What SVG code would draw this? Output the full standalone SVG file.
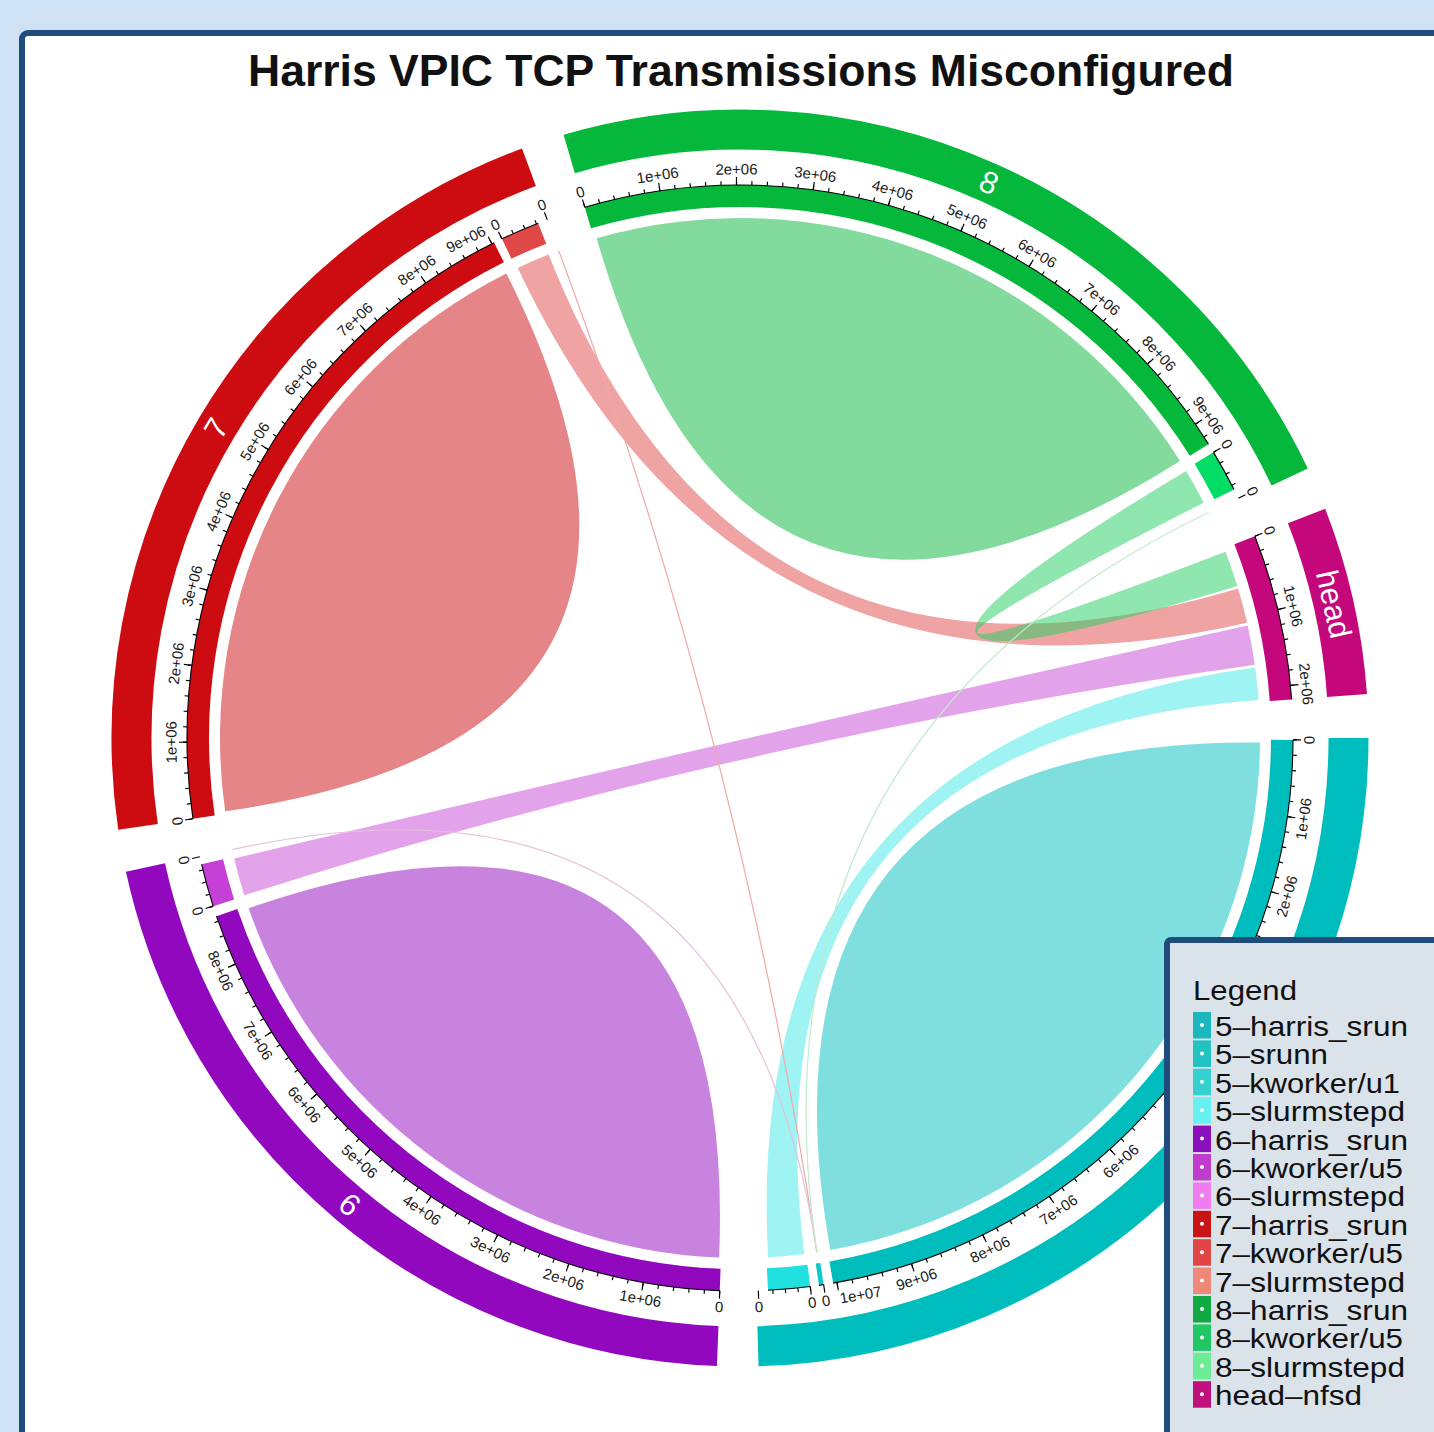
<svg xmlns="http://www.w3.org/2000/svg" width="1434" height="1432" viewBox="0 0 1434 1432">
<style>
.f{font-family:"Liberation Sans",Arial,sans-serif}
.ax{fill:none;stroke:#000;stroke-width:1.1}
.mn{fill:none;stroke:#000;stroke-width:4}
.mj{fill:none;stroke:#000;stroke-width:8}
.tk{stroke:#000;stroke-width:1.15}
.ob{fill:none;stroke-width:40}
.ib{fill:none;stroke-width:22}
.lbl{font-family:"Liberation Sans",Arial,sans-serif;font-size:15px;fill:#1a1a1a;text-anchor:middle;dominant-baseline:central}
.sl{font-family:"Liberation Sans",Arial,sans-serif;font-size:31px;fill:#fff;text-anchor:middle;dominant-baseline:central}
.ch{stroke:none;fill-opacity:0.5}
.thin{fill:none;stroke-width:1.2}
.lg{font-family:"Liberation Sans",Arial,sans-serif;font-size:28px;fill:#111}
</style>
<defs>
<mask id="m5"><circle r="557" fill="none" stroke="#fff" stroke-width="14" pathLength="360" stroke-dasharray="80.4 400" transform="rotate(0.05)"/></mask>
<mask id="m6"><circle r="557" fill="none" stroke="#fff" stroke-width="14" pathLength="360" stroke-dasharray="69.4 400" transform="rotate(91.95)"/></mask>
<mask id="m7"><circle r="557" fill="none" stroke="#fff" stroke-width="14" pathLength="360" stroke-dasharray="72.3 400" transform="rotate(171.45)"/></mask>
<mask id="m8"><circle r="557" fill="none" stroke="#fff" stroke-width="14" pathLength="360" stroke-dasharray="74.5 400" transform="rotate(253.55)"/></mask>
<mask id="mh"><circle r="557" fill="none" stroke="#fff" stroke-width="14" pathLength="360" stroke-dasharray="17.6 400" transform="rotate(338.45)"/></mask>
</defs>
<rect width="1434" height="1432" fill="#cfe2f3"/>
<rect x="22" y="33" width="1460" height="1460" rx="6" fill="#fff" stroke="#1f4b7d" stroke-width="6"/>
<text class="f" x="741" y="86" font-size="44" font-weight="bold" text-anchor="middle" fill="#111" textLength="986" lengthAdjust="spacingAndGlyphs">Harris VPIC TCP Transmissions Misconfigured</text>

<g id="chord" transform="translate(740 738)">
<g id="sector-5">
<circle class="ob" r="608.5" stroke="#00bdbd" pathLength="360" stroke-dasharray="88.3 400" transform="rotate(0)"/>
<circle class="ib" r="542" stroke="#00bdbd" pathLength="360" stroke-dasharray="80.1 400" transform="rotate(0.2)"/>
<circle class="ib" r="542" stroke="#10c8c8" pathLength="360" stroke-dasharray="0.5 400" transform="rotate(81.3)"/>
<circle class="ib" r="542" stroke="#20e0e0" pathLength="360" stroke-dasharray="4.4 400" transform="rotate(82.7)"/>
<circle class="ax" r="553" pathLength="360" stroke-dasharray="80.1 400" transform="rotate(0.2)"/>
<circle class="ax" r="553" pathLength="360" stroke-dasharray="0.5 400" transform="rotate(81.3)"/>
<circle class="ax" r="553" pathLength="360" stroke-dasharray="4.4 400" transform="rotate(82.7)"/>
<g mask="url(#m5)">
<circle class="mn" r="555" pathLength="360" stroke-dasharray="0.12 1.474" transform="rotate(0.14)"/>
<circle class="mj" r="557" pathLength="360" stroke-dasharray="0.12 7.85" transform="rotate(0.14)"/>
</g>
<circle class="mn" r="555" pathLength="360" stroke-dasharray="0.12 1.18 0.12 1.18 0.12 1.18 0.12 400" transform="rotate(82.64)"/>
<line class="tk" x1="553" x2="561" transform="rotate(81.3)"/>
<line class="tk" x1="553" x2="561" transform="rotate(82.7)"/>
<line class="tk" x1="553" x2="561" transform="rotate(88.1)"/>
<text class="lbl" transform="rotate(0.2) translate(569 0) rotate(-90)">0</text>
<text class="lbl" transform="rotate(8.17) translate(569 0) rotate(-90)">1e+06</text>
<text class="lbl" transform="rotate(16.14) translate(569 0) rotate(-90)">2e+06</text>
<text class="lbl" transform="rotate(48.02) translate(569 0) rotate(-90)">6e+06</text>
<text class="lbl" transform="rotate(55.99) translate(569 0) rotate(-90)">7e+06</text>
<text class="lbl" transform="rotate(63.96) translate(569 0) rotate(-90)">8e+06</text>
<text class="lbl" transform="rotate(71.93) translate(569 0) rotate(-90)">9e+06</text>
<text class="lbl" style="text-anchor:start" transform="rotate(79.9) translate(569 0) rotate(-90)">1e+07</text>
<text class="lbl" transform="rotate(81.3) translate(569 0) rotate(-90)">0</text>
<text class="lbl" transform="rotate(82.7) translate(569 0) rotate(-90)">0</text>
<text class="lbl" transform="rotate(88.1) translate(569 0) rotate(-90)">0</text>
</g>

<g id="sector-6">
<circle class="ob" r="608.5" stroke="#9108bf" pathLength="360" stroke-dasharray="75.6 400" transform="rotate(92.1)"/>
<circle class="ib" r="542" stroke="#9108bf" pathLength="360" stroke-dasharray="69.1 400" transform="rotate(92.1)"/>
<circle class="ib" r="542" stroke="#c440d6" pathLength="360" stroke-dasharray="4.5 400" transform="rotate(162.3)"/>
<circle class="ax" r="553" pathLength="360" stroke-dasharray="69.1 400" transform="rotate(92.1)"/>
<circle class="ax" r="553" pathLength="360" stroke-dasharray="4.5 400" transform="rotate(162.3)"/>
<g mask="url(#m6)">
<circle class="mn" r="555" pathLength="360" stroke-dasharray="0.12 1.474" transform="rotate(92.04)"/>
<circle class="mj" r="557" pathLength="360" stroke-dasharray="0.12 7.85" transform="rotate(92.04)"/>
</g>
<circle class="mn" r="555" pathLength="360" stroke-dasharray="0.12 1.18 0.12 1.18 0.12 1.18 0.12 400" transform="rotate(162.24)"/>
<line class="tk" x1="553" x2="561" transform="rotate(162.3)"/>
<line class="tk" x1="553" x2="561" transform="rotate(167.6)"/>
<text class="lbl" transform="rotate(92.1) translate(569 0) rotate(-90)">0</text>
<text class="lbl" transform="rotate(100.07) translate(569 0) rotate(-90)">1e+06</text>
<text class="lbl" transform="rotate(108.04) translate(569 0) rotate(-90)">2e+06</text>
<text class="lbl" transform="rotate(116.01) translate(569 0) rotate(-90)">3e+06</text>
<text class="lbl" transform="rotate(123.98) translate(569 0) rotate(-90)">4e+06</text>
<text class="lbl" transform="rotate(131.95) translate(569 0) rotate(-90)">5e+06</text>
<text class="lbl" transform="rotate(139.92) translate(569 0) rotate(-90)">6e+06</text>
<text class="lbl" transform="rotate(147.89) translate(569 0) rotate(-90)">7e+06</text>
<text class="lbl" transform="rotate(155.86) translate(569 0) rotate(-90)">8e+06</text>
<text class="lbl" transform="rotate(162.3) translate(569 0) rotate(-90)">0</text>
<text class="lbl" transform="rotate(167.6) translate(569 0) rotate(-90)">0</text>
<text class="sl" transform="rotate(129.9) translate(608.5 0) rotate(-90)">6</text>
</g>

<g id="sector-7">
<circle class="ob" r="608.5" stroke="#cc0c10" pathLength="360" stroke-dasharray="78.1 400" transform="rotate(171.6)"/>
<circle class="ib" r="542" stroke="#cc0c10" pathLength="360" stroke-dasharray="72 400" transform="rotate(171.6)"/>
<circle class="ib" r="542" stroke="#e04848" pathLength="360" stroke-dasharray="4.1 400" transform="rotate(244.5)"/>
<circle class="ax" r="553" pathLength="360" stroke-dasharray="72 400" transform="rotate(171.6)"/>
<circle class="ax" r="553" pathLength="360" stroke-dasharray="4.1 400" transform="rotate(244.5)"/>
<g mask="url(#m7)">
<circle class="mn" r="555" pathLength="360" stroke-dasharray="0.12 1.474" transform="rotate(171.54)"/>
<circle class="mj" r="557" pathLength="360" stroke-dasharray="0.12 7.85" transform="rotate(171.54)"/>
</g>
<circle class="mn" r="555" pathLength="360" stroke-dasharray="0.12 1.18 0.12 1.18 0.12 1.18 0.12 400" transform="rotate(244.44)"/>
<line class="tk" x1="553" x2="561" transform="rotate(244.5)"/>
<line class="tk" x1="553" x2="561" transform="rotate(249.6)"/>
<text class="lbl" transform="rotate(171.6) translate(569 0) rotate(90)">0</text>
<text class="lbl" transform="rotate(179.57) translate(569 0) rotate(90)">1e+06</text>
<text class="lbl" transform="rotate(187.54) translate(569 0) rotate(90)">2e+06</text>
<text class="lbl" transform="rotate(195.51) translate(569 0) rotate(90)">3e+06</text>
<text class="lbl" transform="rotate(203.48) translate(569 0) rotate(90)">4e+06</text>
<text class="lbl" transform="rotate(211.45) translate(569 0) rotate(90)">5e+06</text>
<text class="lbl" transform="rotate(219.42) translate(569 0) rotate(90)">6e+06</text>
<text class="lbl" transform="rotate(227.39) translate(569 0) rotate(90)">7e+06</text>
<text class="lbl" transform="rotate(235.36) translate(569 0) rotate(90)">8e+06</text>
<text class="lbl" style="text-anchor:end" transform="rotate(243.33) translate(569 0) rotate(90)">9e+06</text>
<text class="lbl" transform="rotate(244.5) translate(569 0) rotate(90)">0</text>
<text class="lbl" transform="rotate(249.6) translate(569 0) rotate(90)">0</text>
<text class="sl" transform="rotate(210.6) translate(608.5 0) rotate(90)">7</text>
</g>

<g id="sector-8">
<circle class="ob" r="608.5" stroke="#05b83c" pathLength="360" stroke-dasharray="80.9 400" transform="rotate(253.7)"/>
<circle class="ib" r="542" stroke="#05b83c" pathLength="360" stroke-dasharray="74.2 400" transform="rotate(253.7)"/>
<circle class="ib" r="542" stroke="#00dc64" pathLength="360" stroke-dasharray="4.4 400" transform="rotate(328.9)"/>
<circle class="ax" r="553" pathLength="360" stroke-dasharray="74.2 400" transform="rotate(253.7)"/>
<circle class="ax" r="553" pathLength="360" stroke-dasharray="4.4 400" transform="rotate(328.9)"/>
<g mask="url(#m8)">
<circle class="mn" r="555" pathLength="360" stroke-dasharray="0.12 1.474" transform="rotate(253.64)"/>
<circle class="mj" r="557" pathLength="360" stroke-dasharray="0.12 7.85" transform="rotate(253.64)"/>
</g>
<circle class="mn" r="555" pathLength="360" stroke-dasharray="0.12 1.18 0.12 1.18 0.12 1.18 0.12 400" transform="rotate(328.84)"/>
<line class="tk" x1="553" x2="561" transform="rotate(328.9)"/>
<line class="tk" x1="553" x2="561" transform="rotate(334.3)"/>
<text class="lbl" transform="rotate(253.7) translate(569 0) rotate(90)">0</text>
<text class="lbl" transform="rotate(261.67) translate(569 0) rotate(90)">1e+06</text>
<text class="lbl" transform="rotate(269.64) translate(569 0) rotate(90)">2e+06</text>
<text class="lbl" transform="rotate(277.61) translate(569 0) rotate(90)">3e+06</text>
<text class="lbl" transform="rotate(285.58) translate(569 0) rotate(90)">4e+06</text>
<text class="lbl" transform="rotate(293.55) translate(569 0) rotate(90)">5e+06</text>
<text class="lbl" transform="rotate(301.52) translate(569 0) rotate(90)">6e+06</text>
<text class="lbl" transform="rotate(309.49) translate(569 0) rotate(90)">7e+06</text>
<text class="lbl" transform="rotate(317.46) translate(569 0) rotate(90)">8e+06</text>
<text class="lbl" transform="rotate(325.43) translate(569 0) rotate(90)">9e+06</text>
<text class="lbl" transform="rotate(328.9) translate(569 0) rotate(90)">0</text>
<text class="lbl" transform="rotate(334.3) translate(569 0) rotate(90)">0</text>
<text class="sl" transform="rotate(294.15) translate(608.5 0) rotate(90)">8</text>
</g>

<g id="sector-head">
<circle class="ob" r="608.5" stroke="#c4087c" pathLength="360" stroke-dasharray="17.4 400" transform="rotate(338.6)"/>
<circle class="ib" r="542" stroke="#c4087c" pathLength="360" stroke-dasharray="17.4 400" transform="rotate(338.6)"/>
<circle class="ax" r="553" pathLength="360" stroke-dasharray="17.4 400" transform="rotate(338.6)"/>
<g mask="url(#mh)">
<circle class="mn" r="555" pathLength="360" stroke-dasharray="0.12 1.474" transform="rotate(338.54)"/>
<circle class="mj" r="557" pathLength="360" stroke-dasharray="0.12 7.85" transform="rotate(338.54)"/>
</g>
<text class="lbl" transform="rotate(338.6) translate(569 0) rotate(90)">0</text>
<text class="lbl" transform="rotate(346.57) translate(569 0) rotate(90)">1e+06</text>
<text class="lbl" transform="rotate(354.54) translate(569 0) rotate(90)">2e+06</text>
<text class="sl" transform="rotate(347.3) translate(608.5 0) rotate(90)">head</text>
</g>

<g id="links">
<path class="ch" fill="#00bdbd" d="M519.98 4.54A520 520 0 0 1 90.30 512.10Q0 0 519.98 4.54Z"/>
<path class="ch" fill="#9108bf" d="M-20.87 519.58A520 520 0 0 1 -491.37 170.15Q0 0 -20.87 519.58Z"/>
<path class="ch" fill="#cc0c10" d="M-514.81 73.27A520 520 0 0 1 -233.65 -464.55Q0 0 -514.81 73.27Z"/>
<path class="ch" fill="#05b83c" d="M-143.33 -499.86A520 520 0 0 1 440.02 -277.10Q0 0 -143.33 -499.86Z"/>
<path class="ch" fill="#40e8e8" d="M64.27 516.01A520 520 0 0 1 28.12 519.24Q0 0 515.19 -70.57A520 520 0 0 1 518.60 -38.08Q0 0 64.27 516.01Z"/>
<path class="ch" fill="#c848d8" d="M-495.66 157.23A520 520 0 0 1 -505.84 120.51Q0 0 507.67 -112.55A520 520 0 0 1 514.81 -73.27Q0 0 -495.66 157.23Z"/>
<path class="ch" fill="#e04848" d="M-222.23 -470.12A520 520 0 0 1 -191.43 -483.48Q0 0 498.07 -149.43A520 520 0 0 1 507.08 -115.20Q0 0 -222.23 -470.12Z"/>
<path class="ch" fill="#20d060" d="M446.19 -267.04A520 520 0 0 1 463.73 -235.27Q0 0 485.46 -186.35A520 520 0 0 1 497.28 -152.03Q0 0 446.19 -267.04Z"/>
<path class="thin" stroke="#f0a8a8" d="M-181.26 -487.39Q0 0 76.86 514.29"/>
<path class="thin" stroke="#e6c0dc" d="M-507.87 111.66Q0 0 76.86 514.29"/>
<path class="thin" stroke="#c0eacc" d="M468.56 -225.50Q0 0 76.86 514.29"/>
</g>
</g>

<g id="legend">
<rect x="1167" y="940" width="300" height="520" rx="4" fill="#dae2ea" stroke="#1f4b7d" stroke-width="6"/>
<text class="lg" x="1193" y="1000" textLength="104" lengthAdjust="spacingAndGlyphs">Legend</text>
<g id="lg-swatches">
<rect x="1193" y="1012" width="18" height="26.5" fill="#1bb7bd"/>
<rect x="1193" y="1040.4" width="18" height="26.5" fill="#20c2c2"/>
<rect x="1193" y="1068.8" width="18" height="26.5" fill="#35d0d0"/>
<rect x="1193" y="1097.2" width="18" height="26.5" fill="#66f0f0"/>
<rect x="1193" y="1125.6" width="18" height="26.5" fill="#8a10bc"/>
<rect x="1193" y="1154" width="18" height="26.5" fill="#c03ccc"/>
<rect x="1193" y="1182.4" width="18" height="26.5" fill="#f07cf0"/>
<rect x="1193" y="1210.8" width="18" height="26.5" fill="#c81414"/>
<rect x="1193" y="1239.2" width="18" height="26.5" fill="#e04444"/>
<rect x="1193" y="1267.6" width="18" height="26.5" fill="#f08878"/>
<rect x="1193" y="1296" width="18" height="26.5" fill="#12a844"/>
<rect x="1193" y="1324.4" width="18" height="26.5" fill="#20c864"/>
<rect x="1193" y="1352.8" width="18" height="26.5" fill="#6cec94"/>
<rect x="1193" y="1381.2" width="18" height="26.5" fill="#c0107c"/>
</g>
<g id="lg-dots" fill="#fff">
<circle cx="1202" cy="1025" r="2"/><circle cx="1202" cy="1053.4" r="2"/><circle cx="1202" cy="1081.8" r="2"/><circle cx="1202" cy="1110.2" r="2"/><circle cx="1202" cy="1138.6" r="2"/><circle cx="1202" cy="1167" r="2"/><circle cx="1202" cy="1195.4" r="2"/><circle cx="1202" cy="1223.8" r="2"/><circle cx="1202" cy="1252.2" r="2"/><circle cx="1202" cy="1280.6" r="2"/><circle cx="1202" cy="1309" r="2"/><circle cx="1202" cy="1337.4" r="2"/><circle cx="1202" cy="1365.8" r="2"/><circle cx="1202" cy="1394.2" r="2"/>
</g>
<g id="lg-labels">
<text class="lg" x="1215" y="1036" textLength="193" lengthAdjust="spacingAndGlyphs">5–harris_srun</text>
<text class="lg" x="1215" y="1064.4" textLength="113" lengthAdjust="spacingAndGlyphs">5–srunn</text>
<text class="lg" x="1215" y="1092.8" textLength="185" lengthAdjust="spacingAndGlyphs">5–kworker/u1</text>
<text class="lg" x="1215" y="1121.2" textLength="190" lengthAdjust="spacingAndGlyphs">5–slurmstepd</text>
<text class="lg" x="1215" y="1149.6" textLength="193" lengthAdjust="spacingAndGlyphs">6–harris_srun</text>
<text class="lg" x="1215" y="1178" textLength="188" lengthAdjust="spacingAndGlyphs">6–kworker/u5</text>
<text class="lg" x="1215" y="1206.4" textLength="190" lengthAdjust="spacingAndGlyphs">6–slurmstepd</text>
<text class="lg" x="1215" y="1234.8" textLength="193" lengthAdjust="spacingAndGlyphs">7–harris_srun</text>
<text class="lg" x="1215" y="1263.2" textLength="188" lengthAdjust="spacingAndGlyphs">7–kworker/u5</text>
<text class="lg" x="1215" y="1291.6" textLength="190" lengthAdjust="spacingAndGlyphs">7–slurmstepd</text>
<text class="lg" x="1215" y="1320" textLength="193" lengthAdjust="spacingAndGlyphs">8–harris_srun</text>
<text class="lg" x="1215" y="1348.4" textLength="188" lengthAdjust="spacingAndGlyphs">8–kworker/u5</text>
<text class="lg" x="1215" y="1376.8" textLength="190" lengthAdjust="spacingAndGlyphs">8–slurmstepd</text>
<text class="lg" x="1215" y="1405.2" textLength="147" lengthAdjust="spacingAndGlyphs">head–nfsd</text>
</g>
</g>
</svg>
